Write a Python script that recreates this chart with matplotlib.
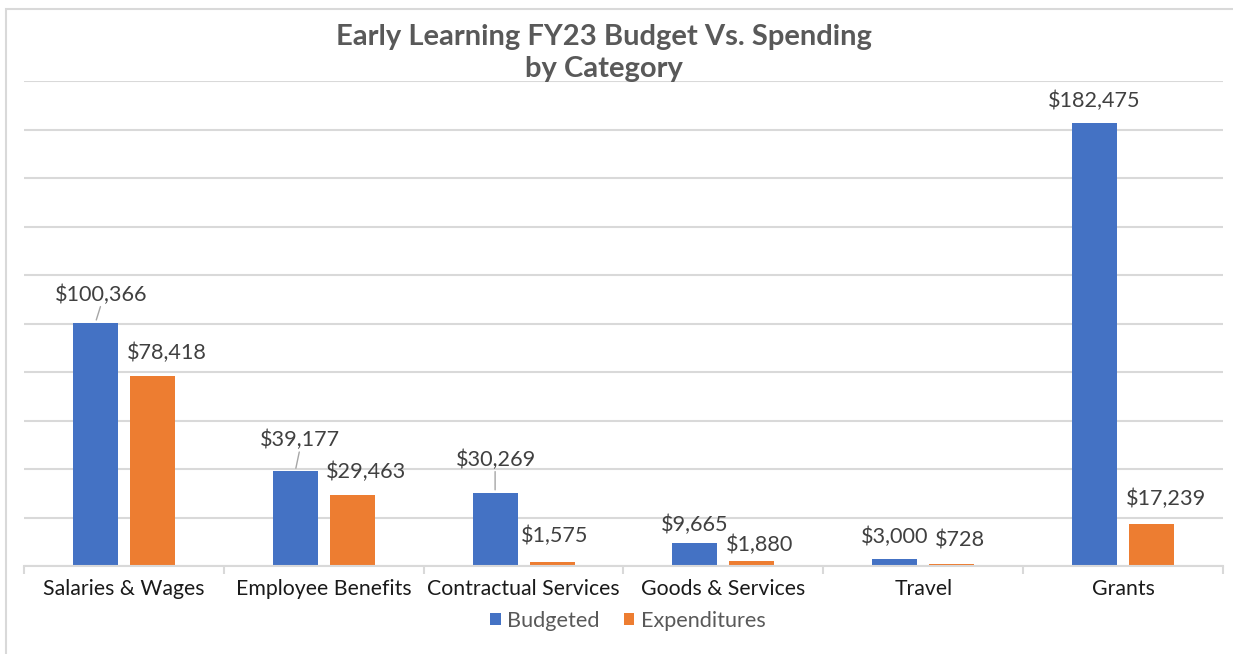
import matplotlib
matplotlib.use("Agg")
import matplotlib.pyplot as plt
from matplotlib.patches import Rectangle
import numpy as np

categories = ["Salaries & Wages", "Employee Benefits", "Contractual Services",
              "Goods & Services", "Travel", "Grants"]
budgeted = [100366, 39177, 30269, 9665, 3000, 182475]
expenditures = [78418, 29463, 1575, 1880, 728, 17239]
series_names = ["Budgeted", "Expenditures"]

# label offsets in pixels (dx, dy of text centre from bar top centre)
bud_offsets = [(6, 28), (5, 31), (1, 33), (0, 18), (0, 22), (0, 23)]
exp_offsets = [(14, 23), (14, 23), (3, 26), (8, 17), (8, 24), (14, 25)]
bud_leader = [True, True, True, False, False, False]

W, H = 1233, 654
plt.rcParams['font.family'] = ['Lato', 'DejaVu Sans']
fig = plt.figure(figsize=(W / 100, H / 100), dpi=100)

left, right = 24, 1223
base, top = 566, 81
ax = fig.add_axes([left / W, (H - base) / H, (right - left) / W, (base - top) / H])

blue = "#4472C4"
orange = "#ED7D31"
grid = "#D9D9D9"
x = np.arange(len(categories))
bw = 0.225
off = 0.1425
b1 = ax.bar(x - off, budgeted, bw, color=blue, zorder=3)
b2 = ax.bar(x + off, expenditures, bw, color=orange, zorder=3)

ax.set_xlim(-0.5, len(categories) - 0.5)
ax.set_ylim(0, 200000)
ax.set_yticks(np.arange(0, 200001, 20000))
ax.yaxis.grid(True, color=grid, lw=1.5, zorder=0)
ax.tick_params(axis='y', length=0, labelleft=False)
for s in ["top", "right", "left"]:
    ax.spines[s].set_visible(False)
ax.spines["bottom"].set_color(grid)
ax.spines["bottom"].set_linewidth(1.5)
ax.spines["bottom"].set_zorder(4)

ax.set_xticks(np.arange(-0.5, len(categories), 1.0))
ax.set_xticklabels([])
ax.tick_params(axis='x', which='major', length=6, width=1.5, color=grid)
ax.set_xticks(x, minor=True)
ax.set_xticklabels(categories, minor=True, fontsize=15.3, color="#1a1a1a")
ax.tick_params(axis='x', which='minor', length=0, pad=9.5)

lab_color = "#404040"
for i in range(len(categories)):
    for val, xc, (dx, dy), lead in [
        (budgeted[i], x[i] - off, bud_offsets[i], bud_leader[i]),
        (expenditures[i], x[i] + off, exp_offsets[i], False),
    ]:
        ax.annotate(f"${val:,}", xy=(xc, val), xytext=(dx, dy),
                    textcoords="offset pixels", ha="center", va="center",
                    fontsize=15.6, color=lab_color, zorder=5)
        if lead:
            ax.annotate("", xy=(xc, val), xytext=(dx - 1, dy - 12),
                        textcoords="offset pixels",
                        arrowprops=dict(arrowstyle="-", color="#A6A6A6", lw=1,
                                        shrinkA=0, shrinkB=2))

fig.text(604 / W, 1 - 53 / H, "Early Learning FY23 Budget Vs. Spending\nby Category",
         ha="center", va="center", fontsize=21, fontweight="bold",
         color="#595959", linespacing=1.3)

leg = fig.legend([b1, b2], series_names, loc="center", bbox_to_anchor=(628 / W, 1 - 621 / H),
                 ncol=2, frameon=False, fontsize=15.6, handlelength=0.48, handleheight=0.48,
                 handletextpad=0.32, columnspacing=1.1, labelcolor="#595959")

fig.patches.append(Rectangle((6 / W, -0.1), 1.2, (H - 9) / H + 0.1,
                             transform=fig.transFigure, fill=False,
                             edgecolor=grid, lw=1.5, zorder=0))

fig.savefig("out.png", dpi=100)
